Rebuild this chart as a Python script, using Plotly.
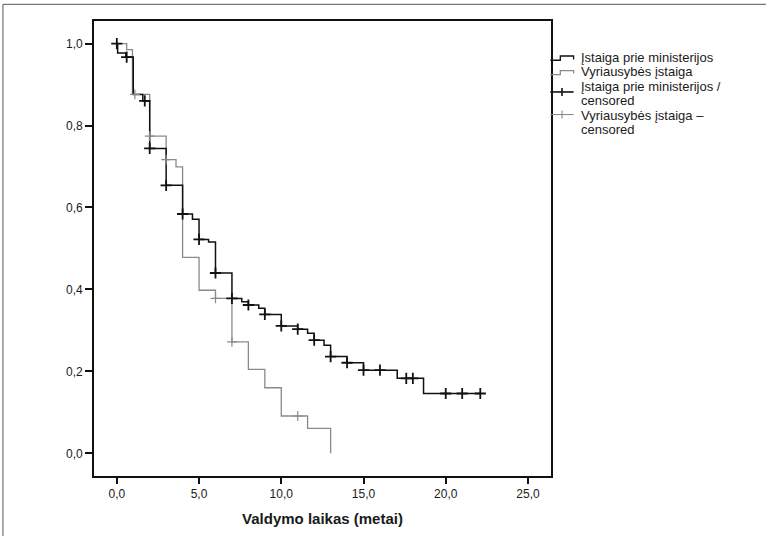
import plotly.graph_objects as go

# ---------------- data ----------------
series_names = ["Įstaiga prie ministerijos", "Vyriausybės įstaiga",
                "Įstaiga prie ministerijos / censored", "Vyriausybės įstaiga – censored"]
legend_lines = [["Įstaiga prie ministerijos"],
                ["Vyriausybės įstaiga"],
                ["Įstaiga prie ministerijos /", "censored"],
                ["Vyriausybės įstaiga –", "censored"]]

black_t = [0, 0.05, 0.55, 1.0, 1.58, 2.0, 3.0, 4.0, 4.6, 5.0, 5.58, 6.0, 7.0, 7.6, 8.0,
           8.63, 9.0, 10.0, 11.0, 11.6, 12.0, 12.6, 13.0, 14.0, 15.0, 17.05, 18.65, 22.1]
black_s = [1.0, 0.977, 0.967, 0.876, 0.86, 0.744, 0.654, 0.584, 0.571, 0.522, 0.516, 0.44,
           0.378, 0.37, 0.362, 0.354, 0.339, 0.311, 0.303, 0.293, 0.276, 0.264, 0.236,
           0.221, 0.203, 0.183, 0.146, 0.146]
black_cens_t = [0, 0.6, 1.7, 2.0, 3.0, 4.0, 5.0, 6.0, 7.0, 8.0, 9.0, 10.0, 11.0, 12.0,
                13.0, 14.0, 15.0, 16.0, 17.6, 18.0, 20.0, 21.0, 22.1]
black_cens_s = [1.0, 0.967, 0.86, 0.744, 0.654, 0.584, 0.522, 0.44, 0.378, 0.362, 0.339,
                0.311, 0.303, 0.276, 0.236, 0.221, 0.203, 0.203, 0.183, 0.183, 0.146,
                0.146, 0.146]

gray_t = [0, 0.6, 0.95, 2.0, 3.0, 3.6, 4.0, 5.0, 6.0, 7.0, 8.0, 9.0, 10.0, 11.6, 13.0]
gray_s = [1.0, 0.985, 0.876, 0.774, 0.717, 0.699, 0.478, 0.398, 0.378, 0.272, 0.205,
          0.16, 0.091, 0.061, 0.0]
gray_cens_t = [1.1, 2.0, 3.0, 6.0, 7.0, 11.0]
gray_cens_s = [0.876, 0.774, 0.717, 0.378, 0.272, 0.091]

x_ticks = [0, 5, 10, 15, 20, 25]
y_ticks = [0, 0.2, 0.4, 0.6, 0.8, 1.0]
x_title = "Valdymo laikas (metai)"

# ---------------- styling ----------------
BLACK = "#111111"
GRAY = "#8a8a8a"
FONT = "Liberation Sans, Arial, sans-serif"

W, H = 766, 536
L, R, T, B = 94, 550.7, 20.7, 476  # plot area in pixels


def px(xp):
    return (xp - L) / (R - L)


def py(yp):
    return (B - yp) / (B - T)


fig = go.Figure()
fig.add_trace(go.Scatter(x=gray_t, y=gray_s, mode="lines", name=series_names[1],
                         line=dict(shape="hv", color=GRAY, width=1.3), showlegend=False))
fig.add_trace(go.Scatter(x=black_t, y=black_s, mode="lines", name=series_names[0],
                         line=dict(shape="hv", color=BLACK, width=1.5), showlegend=False))
fig.add_trace(go.Scatter(x=gray_cens_t, y=gray_cens_s, mode="markers", name=series_names[3],
                         marker=dict(symbol="cross-thin", size=7,
                                     line=dict(color=GRAY, width=1.2)), showlegend=False))
fig.add_trace(go.Scatter(x=black_cens_t, y=black_cens_s, mode="markers", name=series_names[2],
                         marker=dict(symbol="cross-thin", size=8,
                                     line=dict(color=BLACK, width=1.8)), showlegend=False))

shapes = []
annotations = []

# outer frame (top and left)
shapes.append(dict(type="line", xref="paper", yref="paper", x0=px(3), x1=px(W + 2),
                   y0=py(4), y1=py(4), line=dict(color="#555555", width=1)))
shapes.append(dict(type="line", xref="paper", yref="paper", x0=px(3), x1=px(3),
                   y0=py(4), y1=py(H + 2), line=dict(color="#555555", width=1)))

# custom legend glyphs
glyph_colors = [BLACK, GRAY, BLACK, GRAY]
step_rows = [(60, 55.7, 59.3), (74.3, 70.3, 73.3)]
for i, (ya, yb, yc) in enumerate(step_rows):
    path = (f"M {px(550)},{py(ya)} L {px(560)},{py(ya)} L {px(560)},{py(yb)} "
            f"L {px(573.3)},{py(yb)} L {px(573.3)},{py(yc)}")
    shapes.append(dict(type="path", xref="paper", yref="paper", path=path,
                       line=dict(color=glyph_colors[i], width=1.3)))
cross_rows = [91.7, 114.3]
for j, yy in enumerate(cross_rows):
    c = glyph_colors[2 + j]
    w = 1.6 if j == 0 else 1.1
    shapes.append(dict(type="line", xref="paper", yref="paper", x0=px(550), x1=px(573.3),
                       y0=py(yy), y1=py(yy), line=dict(color=c, width=w)))
    shapes.append(dict(type="line", xref="paper", yref="paper", x0=px(561.7), x1=px(561.7),
                       y0=py(yy - 4), y1=py(yy + 4), line=dict(color=c, width=w)))

# legend texts
text_rows = [57.3, 71.6, 86.2, 100.6, 115.1, 129.5]
k = 0
for entry in legend_lines:
    for line_txt in entry:
        annotations.append(dict(text=line_txt, xref="paper", yref="paper", x=px(579.5), y=py(text_rows[k]),
                                xanchor="left", yanchor="middle", showarrow=False, borderpad=0,
                                font=dict(family=FONT, size=13, color="#1a1a1a")))
        k += 1

fig.update_layout(
    width=W, height=H,
    margin=dict(l=L, r=W - R, t=T, b=H - B, pad=0),
    paper_bgcolor="white", plot_bgcolor="white",
    separators=",.",
    showlegend=False,
    font=dict(family=FONT, color="#1a1a1a"),
    shapes=shapes, annotations=annotations,
    xaxis=dict(range=[-1.387, 26.4], tickvals=x_ticks, tickformat=".1f",
               ticks="outside", ticklen=6, tickwidth=1.5, tickcolor=BLACK,
               showline=True, linecolor=BLACK, linewidth=1.6, mirror=True,
               showgrid=False, zeroline=False,
               tickfont=dict(family=FONT, size=12, color="#1a1a1a"),
               title=dict(text="<b>" + x_title + "</b>", standoff=13,
                          font=dict(family=FONT, size=15, color="#1a1a1a"))),
    yaxis=dict(range=[-0.0554, 1.0551], tickvals=y_ticks, tickformat=".1f",
               ticks="outside", ticklen=7, tickwidth=1.5, tickcolor=BLACK,
               showline=True, linecolor=BLACK, linewidth=1.6, mirror=True,
               showgrid=False, zeroline=False, ticklabelstandoff=0,
               tickfont=dict(family=FONT, size=12, color="#1a1a1a")),
)

fig.write_html("out.html", config={"displayModeBar": False},
               post_script="document.body.style.margin='0';document.body.style.overflow='hidden';")
